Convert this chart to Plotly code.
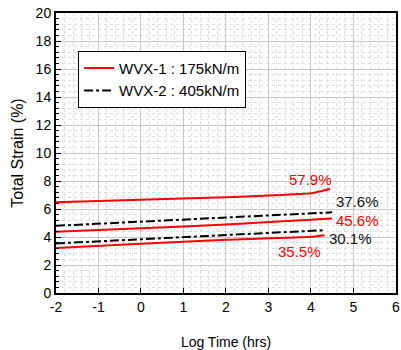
import plotly.graph_objects as go

# Data
x_r1 = [-2, 0, 2, 3, 4, 4.25, 4.45]
y_r1 = [6.48, 6.66, 6.84, 6.96, 7.12, 7.28, 7.45]
x_b1 = [-2, 0, 2, 4.5]
y_b1 = [4.80, 5.10, 5.42, 5.76]
x_r2 = [-2, 0, 2, 4.5]
y_r2 = [4.37, 4.62, 4.90, 5.33]
x_b2 = [-2, 0, 2, 4.33]
y_b2 = [3.54, 3.85, 4.15, 4.49]
x_r3 = [-2, 0, 2, 4, 4.32]
y_r3 = [3.22, 3.52, 3.80, 4.01, 4.13]

x_ticks = [-2, -1, 0, 1, 2, 3, 4, 5, 6]
x_ticktext = ["-2", "-1", "0", "1", "2", "3", "4", "5", "6"]
y_ticks = [0, 2, 4, 6, 8, 10, 12, 14, 16, 18, 20]

labels = ["57.9%", "37.6%", "45.6%", "30.1%", "35.5%"]
label_x = [4.0, 5.09, 5.09, 4.93, 3.74]
label_y = [8.14, 6.57, 5.17, 3.88, 2.95]
label_col = ["#ff0000", "#111111", "#ff0000", "#111111", "#ff0000"]

FONT = "Liberation Sans, Arial, sans-serif"
RED = "#ff0000"
BLK = "#000000"

fig = go.Figure()
fig.add_trace(go.Scatter(x=x_r1, y=y_r1, mode="lines", line=dict(color=RED, width=2, shape="spline", smoothing=0.6),
                         name="WVX-1 : 175kN/m"))
fig.add_trace(go.Scatter(x=x_b1, y=y_b1, mode="lines", line=dict(color=BLK, width=2, dash="dashdot"),
                         name="WVX-2 : 405kN/m"))
fig.add_trace(go.Scatter(x=x_r2, y=y_r2, mode="lines", line=dict(color=RED, width=2, shape="spline", smoothing=0.6),
                         showlegend=False))
fig.add_trace(go.Scatter(x=x_b2, y=y_b2, mode="lines", line=dict(color=BLK, width=2, dash="dashdot"),
                         showlegend=False))
fig.add_trace(go.Scatter(x=x_r3, y=y_r3, mode="lines", line=dict(color=RED, width=2, shape="spline", smoothing=0.6),
                         showlegend=False))

for t, xx, yy, c in zip(labels, label_x, label_y, label_col):
    fig.add_annotation(x=xx, y=yy, text=t, showarrow=False,
                       font=dict(family=FONT, size=15, color=c))

fig.update_xaxes(range=[-2, 6.002], tickmode="array", tickvals=x_ticks, ticktext=x_ticktext,
                 ticklabeloverflow="allow",
                 showgrid=True, gridcolor="#c8c8c8", gridwidth=1,
                 minor=dict(dtick=0.2, showgrid=True, gridcolor="#dcdcdc", griddash="dot", gridwidth=1),
                 ticks="inside", ticklen=5, tickcolor=BLK, showline=True, linecolor=BLK, linewidth=2,
                 mirror=True, zeroline=False,
                 title=dict(text="Log Time (hrs)", font=dict(family=FONT, size=14, color=BLK), standoff=24),
                 tickfont=dict(family=FONT, size=14, color=BLK))
fig.update_yaxes(range=[0, 20], tickmode="array", tickvals=y_ticks,
                 showgrid=True, gridcolor="#c8c8c8", gridwidth=1,
                 minor=dict(dtick=0.4, showgrid=True, gridcolor="#dcdcdc", griddash="dot", gridwidth=1,
                            ticks="inside", ticklen=3, tickcolor=BLK),
                 ticks="inside", ticklen=5, tickcolor=BLK, showline=True, linecolor=BLK, linewidth=2,
                 mirror=True, zeroline=False,
                 title=dict(text="Total Strain (%)", font=dict(family=FONT, size=16, color=BLK), standoff=8),
                 tickfont=dict(family=FONT, size=14, color=BLK))

fig.update_layout(
    width=401, height=350,
    margin=dict(l=56, r=1, t=13, b=57),
    plot_bgcolor="white", paper_bgcolor="white",
    font=dict(family=FONT, size=14, color=BLK),
    legend=dict(x=0.065, y=0.865, xanchor="left", yanchor="top", bgcolor="white",
                bordercolor=BLK, borderwidth=1, font=dict(family=FONT, size=15, color=BLK),
                tracegroupgap=2),
)

fig.write_html("out.html")
